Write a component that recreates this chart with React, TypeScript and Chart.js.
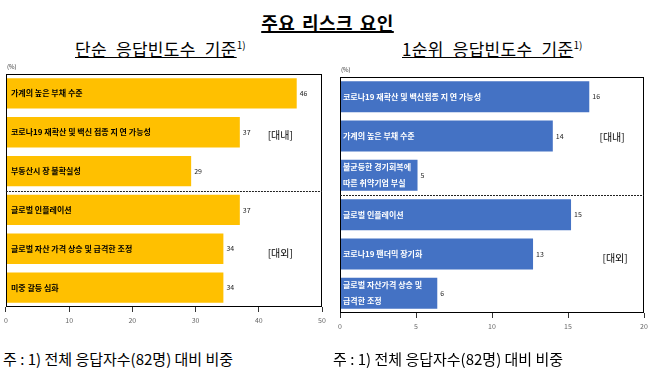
import React, { useEffect, useRef } from "react";
import { Chart, registerables } from "chart.js";

Chart.register(...registerables);

const FONT = "'Noto Sans CJK KR', 'Noto Sans', sans-serif";

// Left chart: 단순 응답빈도수 기준
const leftCategories: (string | string[])[] = [
  "가계의 높은 부채 수준",
  "코로나19 재확산 및 백신 접종 지 연 가능성",
  "부동산시 장 불확실성",
  "글로벌 인플레이션",
  "글로벌 자산 가격 상승 및 급격한 조정",
  "미중 갈등 심화",
];
const leftValues = [46, 37, 29.3, 37, 34.4, 34.4];
const leftValueLabels = ["46", "37", "29", "37", "34", "34"];
const leftMax = 50;
const leftStep = 10;

// Right chart: 1순위 응답빈도수 기준
const rightCategories: (string | string[])[] = [
  "코로나19 재확산 및 백신접종 지 연 가능성",
  "가계의 높은 부채 수준",
  ["불균등한 경기회복에", "따른 취약기업 부실"],
  "글로벌 인플레이션",
  "코로나19 팬더믹 장기화",
  ["글로벌 자산가격 상승 및", "급격한 조정"],
];
const rightValues = [16.4, 14, 5.1, 15.2, 12.7, 6.4];
const rightValueLabels = ["16", "14", "5", "15", "13", "6"];
const rightMax = 20;
const rightStep = 5;

const groupTags = ["[대내]", "[대외]"];

const overlayPlugin = {
  id: "overlay",
  afterDatasetsDraw(chart: any, _args: any, opts: any) {
    const { ctx, chartArea: ca, scales } = chart;
    const ys = scales.y;
    const xs = scales.x;
    const meta = chart.getDatasetMeta(0);
    ctx.save();
    // frame
    ctx.strokeStyle = "#000";
    ctx.lineWidth = 1;
    ctx.strokeRect(
      Math.round(ca.left) + 0.5,
      Math.round(ca.top) + 0.5,
      Math.round(ca.width) - 1,
      Math.round(ca.height) - 1
    );
    // dashed separator between domestic / external groups
    const yd = Math.round((ys.getPixelForValue(2) + ys.getPixelForValue(3)) / 2) + 0.5;
    ctx.strokeStyle = "#222";
    ctx.setLineDash([2, 1]);
    ctx.beginPath();
    ctx.moveTo(ca.left, yd);
    ctx.lineTo(ca.right, yd);
    ctx.stroke();
    ctx.setLineDash([]);
    // texts in and next to bars
    ctx.textBaseline = "middle";
    meta.data.forEach((bar: any, i: number) => {
      const lbl = chart.data.labels[i];
      const lines: string[] = Array.isArray(lbl) ? lbl : [lbl];
      ctx.font = `bold 8px ${FONT}`;
      ctx.fillStyle = opts.textColor;
      ctx.textAlign = "left";
      lines.forEach((ln, k) => {
        ctx.fillText(ln, ca.left + opts.textInset, bar.y + (k - (lines.length - 1) / 2) * 16);
      });
      ctx.font = `7px ${FONT}`;
      ctx.fillStyle = "#222";
      ctx.fillText(opts.valueLabels[i], bar.x + 3, bar.y);
    });
    // group tags
    ctx.font = `10px ${FONT}`;
    ctx.fillStyle = "#000";
    ctx.textAlign = "center";
    opts.tags.forEach((t: any) => {
      ctx.fillText(t.text, xs.getPixelForValue(t.value), ys.getPixelForValue(t.index) + t.dy);
    });
    // unit
    ctx.font = `6px ${FONT}`;
    ctx.textAlign = "left";
    ctx.fillStyle = "#333";
    ctx.fillText("(%)", ca.left + 1, ca.top - 7);
    ctx.restore();
  },
};

function makeConfig(p: any) {
  return {
    type: "bar",
    data: {
      labels: p.categories,
      datasets: [
        {
          data: p.values,
          backgroundColor: p.color,
          borderWidth: 0,
          categoryPercentage: 1,
          barPercentage: p.barPct,
        },
      ],
    },
    options: {
      indexAxis: "y",
      responsive: false,
      maintainAspectRatio: false,
      animation: false,
      events: [],
      layout: { padding: p.padding },
      plugins: {
        legend: { display: false },
        tooltip: { enabled: false },
        title: { display: false },
        overlay: {
          textColor: p.textColor,
          textInset: p.textInset,
          valueLabels: p.valueLabels,
          tags: p.tags,
        },
      },
      scales: {
        x: {
          min: 0,
          max: p.max,
          ticks: {
            stepSize: p.step,
            color: "#666",
            font: { size: 7, family: FONT },
            padding: 4,
            maxRotation: 0,
          },
          grid: {
            drawOnChartArea: false,
            drawTicks: true,
            tickLength: 5,
            color: "#333",
          },
          border: { display: false },
          afterFit: (axis: any) => {
            axis.height = p.axisHeight;
          },
        },
        y: {
          display: false,
        },
      },
    },
    plugins: [overlayPlugin],
  };
}

function BarPanel(props: any) {
  const ref = useRef<HTMLCanvasElement | null>(null);
  useEffect(() => {
    if (!ref.current) return;
    const chart = new Chart(ref.current, makeConfig(props.cfg) as any);
    return () => chart.destroy();
  }, []);
  return (
    <canvas
      ref={ref}
      width={props.w}
      height={props.h}
      style={{ position: "absolute", left: props.x, top: props.y, width: props.w, height: props.h }}
    />
  );
}

export default function App() {
  const leftCfg = {
    categories: leftCategories,
    values: leftValues,
    valueLabels: leftValueLabels,
    color: "#FFC000",
    textColor: "#000",
    textInset: 5,
    max: leftMax,
    step: leftStep,
    barPct: 0.78,
    padding: { left: 3, right: 8, top: 19, bottom: 0 },
    axisHeight: 28,
    tags: [
      { text: groupTags[0], value: 43.4, index: 1, dy: 3 },
      { text: groupTags[1], value: 43.4, index: 4, dy: 4 },
    ],
  };
  const rightCfg = {
    categories: rightCategories,
    values: rightValues,
    valueLabels: rightValueLabels,
    color: "#4472C4",
    textColor: "#fff",
    textInset: 3,
    max: rightMax,
    step: rightStep,
    barPct: 0.79,
    padding: { left: 15, right: 11, top: 22, bottom: 0 },
    axisHeight: 30,
    tags: [
      { text: groupTags[0], value: 17.9, index: 1, dy: 1 },
      { text: groupTags[1], value: 18.1, index: 4, dy: 4 },
    ],
  };
  const sub = {
    fontFamily: FONT,
    fontSize: 17,
    lineHeight: "20px",
    position: "absolute" as const,
    top: 35,
    wordSpacing: 5,
    letterSpacing: 0.3,
    color: "#000",
    whiteSpace: "nowrap" as const,
  };
  const note = { fontFamily: FONT, fontSize: 15, lineHeight: "20px", position: "absolute" as const, top: 349, color: "#000", whiteSpace: "nowrap" as const };
  return (
    <div style={{ position: "fixed", left: 0, top: 0, width: 655, height: 390, background: "#fff", overflow: "hidden" }}>
      <div
        style={{
          position: "absolute",
          left: 0,
          width: 655,
          top: 8,
          textAlign: "center",
          fontFamily: FONT,
          fontWeight: "bold",
          fontSize: 18,
          lineHeight: "28px",
          wordSpacing: 2,
          letterSpacing: 0.5,
        }}
      >
        <span style={{ textDecoration: "underline", textDecorationThickness: 2 }}>주요 리스크 요인</span>
      </div>
      <div style={{ ...sub, left: 75 }}>
        <span style={{ textDecoration: "underline" }}>단순 응답빈도수 기준</span>
        <sup style={{ fontSize: 10, letterSpacing: 0 }}>1)</sup>
      </div>
      <div style={{ ...sub, left: 402 }}>
        <span style={{ textDecoration: "underline" }}>1순위 응답빈도수 기준</span>
        <sup style={{ fontSize: 10, letterSpacing: 0 }}>1)</sup>
      </div>
      <BarPanel cfg={leftCfg} x={0} y={55} w={330} h={280} />
      <BarPanel cfg={rightCfg} x={325} y={55} w={330} h={288} />
      <div style={{ ...note, left: 3 }}>주 : 1) 전체 응답자수(82명) 대비 비중</div>
      <div style={{ ...note, left: 333 }}>주 : 1) 전체 응답자수(82명) 대비 비중</div>
    </div>
  );
}
